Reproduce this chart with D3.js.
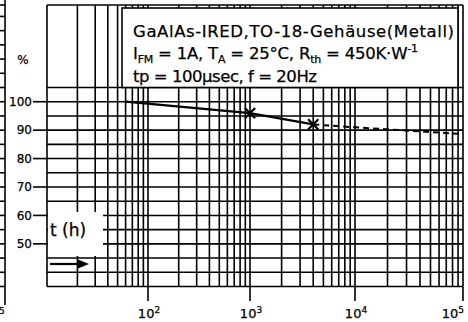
<!DOCTYPE html>
<html><head><meta charset="utf-8">
<script src="https://cdn.jsdelivr.net/npm/d3@7"></script>
<style>
body{margin:0;background:#fff}
svg{display:block}
text{font-family:"DejaVu Sans",Verdana,sans-serif;fill:#000;stroke:#000;stroke-width:0.25}
</style>
</head><body>
<svg id="c" width="468" height="322"></svg>
<script>
// ---- data ----
const decadeStarts = [10, 100, 1000, 10000];
const xTickValues = [100, 1000, 10000, 100000];
const xTickExps = ["2", "3", "4", "5"];
const yTickValues = [100, 90, 80, 70, 60, 50];
const gridPercent = d3.range(35, 105.1, 5);
const measuredT = [60, 1000, 4000];
const measuredP = [100, 96, 92];
const markerT = [1000, 4000];
const markerP = [96, 92];
const extrapT = [4000, 10000, 100000];
const extrapP = [92, 91, 88.6];
const infoLines = [
  [["GaAlAs-IRED,TO-18-Gehäuse(Metall)", 0]],
  [["I", 0], ["FM", 1], [" = 1A, T", 0], ["A", 1], [" = 25°C, R", 0], ["th", 1], [" = 450K·W", 0], ["-1", -1]],
  [["tp = 100µsec, f = 20Hz", 0]]
];

// ---- layout ----
const svg = d3.select("#c");
const x = d3.scaleLog().domain([10, 100, 1000, 10000, 100000]).range([47, 148, 250, 355, 463]);
const y = d3.scaleLinear().domain([35, 105]).range([286.5, 87.5]);
const topPx = 5;
const x0 = x(10), x1 = x(100000), yb = y(35);
const gw = 1.6;

// neighbour chart remnant on the far left
const nb = svg.append("g").attr("stroke", "#000").attr("stroke-width", gw);
nb.append("line").attr("x1", 5).attr("x2", 5).attr("y1", 0).attr("y2", 305);
nb.selectAll("line.s").data(d3.range(35, 131, 5)).join("line").attr("class", "s")
  .attr("x1", 0).attr("x2", 5).attr("y1", d => y(d)).attr("y2", d => y(d));
nb.append("line").attr("x1", 0).attr("x2", 5).attr("y1", topPx).attr("y2", topPx);
svg.append("text").attr("x", -1).attr("y", 314).attr("font-size", 9).text("5");

// grid
const vx = [];
decadeStarts.forEach(d => { for (let k = 1; k <= 9; k++) vx.push(d * k); });
vx.push(100000);
const g = svg.append("g").attr("stroke", "#000").attr("stroke-width", gw);
g.selectAll("line.v").data(vx).join("line").attr("class", "v")
  .attr("x1", d => x(d)).attr("x2", d => x(d)).attr("y1", topPx).attr("y2", yb);
g.selectAll("line.h").data(gridPercent).join("line").attr("class", "h")
  .attr("x1", x0).attr("x2", x1).attr("y1", d => y(d)).attr("y2", d => y(d));
g.append("line").attr("x1", x0).attr("x2", x1).attr("y1", topPx).attr("y2", topPx);

// y ticks
g.selectAll("line.yt").data(yTickValues).join("line").attr("class", "yt")
  .attr("x1", 33).attr("x2", x0).attr("y1", d => y(d)).attr("y2", d => y(d));
svg.selectAll("text.yl").data(yTickValues).join("text").attr("class", "yl")
  .attr("x", 32).attr("y", d => y(d)).attr("dy", "0.36em").attr("text-anchor", "end")
  .attr("font-size", 12).text(d => d);
svg.append("text").attr("x", 23).attr("y", 60).attr("dy", "0.36em").attr("text-anchor", "middle")
  .attr("font-size", 12).text("%");

// x ticks
g.selectAll("line.xt").data(xTickValues).join("line").attr("class", "xt")
  .attr("x1", d => x(d)).attr("x2", d => x(d)).attr("y1", yb).attr("y2", 301);
const xl = svg.selectAll("text.xl").data(xTickValues).join("text").attr("class", "xl")
  .attr("x", (d, i) => i === 3 ? x(d) + 1 : x(d) + 1)
  .attr("y", 318).attr("font-size", 13)
  .attr("text-anchor", (d, i) => i === 3 ? "end" : "middle");
xl.append("tspan").text("10");
xl.append("tspan").attr("font-size", 9).attr("dy", -5).text((d, i) => xTickExps[i]);

// info box
svg.append("rect").attr("x", 122).attr("y", 8).attr("width", 458 - 122).attr("height", y(105) - 8)
  .attr("fill", "#fff").attr("stroke", "#000").attr("stroke-width", gw);
const lineY = [37, 59, 82];
const lineW = [321, 285, 184];
infoLines.forEach((parts, i) => {
  const t = svg.append("text").attr("class", "info").attr("x", 133).attr("y", lineY[i]).attr("font-size", 16.5);
  let shift = 0;
  parts.forEach(([s, mode]) => {
    const ts = t.append("tspan").text(s);
    const dy = mode === 1 ? 4 : mode === -1 ? -7 : 0;
    if (mode !== 0) ts.attr("font-size", 11);
    ts.attr("dy", dy - shift);
    shift = dy;
  });
  t.attr("textLength", lineW[i]).attr("lengthAdjust", "spacing");
});

// t (h) box
svg.append("rect").attr("x", x0 + 1).attr("y", 212).attr("width", 103 - x0 - 1).attr("height", 44).attr("fill", "#fff");
svg.append("text").attr("x", 50).attr("y", 236).attr("font-size", 17).text("t (h)");
svg.append("line").attr("x1", 50).attr("x2", 80).attr("y1", 264).attr("y2", 264).attr("stroke", "#000").attr("stroke-width", 2.2);
svg.append("path").attr("d", d3.line()([[78, 259.5], [89, 264], [78, 268.5]]) + "Z").attr("fill", "#000");

// data
const line = d3.line().x(d => x(d[0])).y(d => y(d[1]));
svg.append("path").attr("d", line(measuredT.map((t, i) => [t, measuredP[i]])))
  .attr("fill", "none").attr("stroke", "#000").attr("stroke-width", 2.2);
svg.append("path").attr("d", line(extrapT.map((t, i) => [t, extrapP[i]])))
  .attr("fill", "none").attr("stroke", "#000").attr("stroke-width", 2).attr("stroke-dasharray", "6,4");
const sym = d3.symbol().type(d3.symbolX).size(70);
svg.selectAll("path.m").data(markerT).join("path").attr("class", "m")
  .attr("transform", (d, i) => `translate(${x(d)},${y(markerP[i])})`)
  .attr("d", sym).attr("fill", "none").attr("stroke", "#000").attr("stroke-width", 2.2);
</script>
</body></html>
